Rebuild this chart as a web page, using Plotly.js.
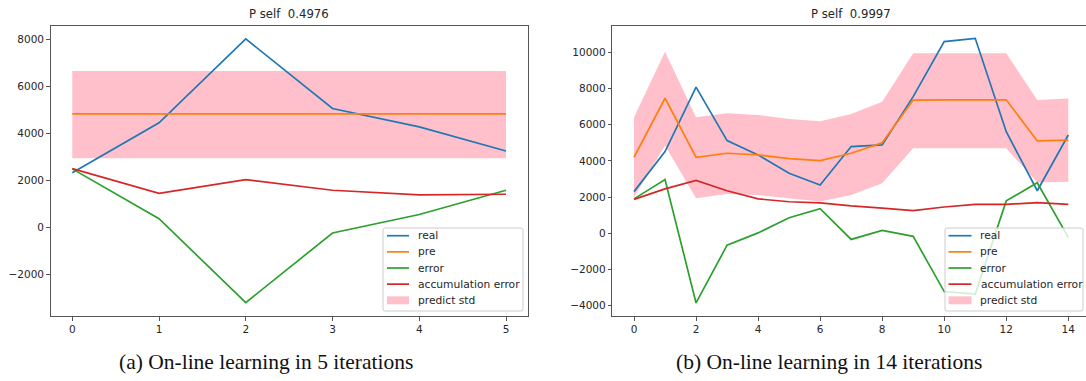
<!DOCTYPE html>
<html>
<head>
<meta charset="utf-8">
<script src="https://cdn.plot.ly/plotly-3.0.1.min.js"></script>
<style>html,body{margin:0;padding:0;background:#fff;}#chart{width:1086px;height:381px;}</style>
</head>
<body>
<div id="chart"></div>
<script>
// ---------- data ----------
const xA = [0, 1, 2, 3, 4, 5];
const realA = [2340, 4460, 8030, 5070, 4290, 3260];
const preA = [4840, 4840, 4840, 4840, 4840, 4840];
const errorA = [2500, 380, -3190, -230, 560, 1590];
const accErrorA = [2510, 1460, 2040, 1590, 1390, 1420];
const stdUpperA = [6670, 6670, 6670, 6670, 6670, 6670];
const stdLowerA = [2950, 2950, 2950, 2950, 2950, 2950];

const xB = [0, 1, 2, 3, 4, 5, 6, 7, 8, 9, 10, 11, 12, 13, 14];
const realB = [2300, 4510, 8070, 5120, 4330, 3310, 2670, 4790, 4880, 7550, 10590, 10770, 5610, 2350, 5430];
const preB = [4200, 7460, 4200, 4420, 4330, 4120, 4010, 4420, 5000, 7360, 7370, 7370, 7370, 5100, 5150];
const errorB = [1900, 2970, -3850, -660, 20, 860, 1360, -340, 160, -170, -3220, -3360, 1790, 2790, -230];
const accErrorB = [1870, 2450, 2920, 2350, 1900, 1740, 1680, 1510, 1390, 1250, 1450, 1600, 1600, 1690, 1600];
const stdUpperB = [6410, 10030, 6410, 6630, 6540, 6310, 6190, 6590, 7270, 9940, 9940, 9940, 9940, 7360, 7440];
const stdLowerB = [1990, 4850, 1930, 2170, 2110, 1930, 1750, 2120, 2760, 4700, 4700, 4700, 4700, 2800, 2850];

const titleA = "P self\u00a0 0.4976";
const titleB = "P self\u00a0 0.9997";
const captionA = "(a) On-line learning in 5 iterations";
const captionB = "(b) On-line learning in 14 iterations";
const legendNames = ["real", "pre", "error", "accumulation error", "predict std"];
const yTicksA = [-2000, 0, 2000, 4000, 6000, 8000];
const yTicksB = [-4000, -2000, 0, 2000, 4000, 6000, 8000, 10000];
const xTicksA = [0, 1, 2, 3, 4, 5];
const xTicksB = [0, 2, 4, 6, 8, 10, 12, 14];

// ---------- styling ----------
const W = 1086, H = 381;
const C = {real: '#1f77b4', pre: '#ff7f0e', error: '#2ca02c', acc: '#d62728', std: '#ffc0cb'};
const colors = [C.real, C.pre, C.error, C.acc, C.std];
const px = v => v / W;
const py = v => 1 - v / H;
const fmt = v => (v < 0 ? '\u2212' + Math.abs(v) : String(v));
const tickFont = {family: 'DejaVu Sans', size: 10.5, color: '#262626'};
const LW = 1.7;

function panel(x, real, pre, err, acc, up, lo, xa, ya) {
  const common = {xaxis: xa, yaxis: ya, showlegend: false, hoverinfo: 'skip', type: 'scatter'};
  return [
    Object.assign({}, common, {x: x, y: lo, mode: 'lines', line: {width: 0, color: C.std}}),
    Object.assign({}, common, {x: x, y: up, mode: 'lines', fill: 'tonexty', fillcolor: C.std, line: {width: 0, color: C.std}}),
    Object.assign({}, common, {x: x, y: real, mode: 'lines', line: {color: C.real, width: LW}}),
    Object.assign({}, common, {x: x, y: pre, mode: 'lines', line: {color: C.pre, width: LW}}),
    Object.assign({}, common, {x: x, y: err, mode: 'lines', line: {color: C.error, width: LW}}),
    Object.assign({}, common, {x: x, y: acc, mode: 'lines', line: {color: C.acc, width: LW}})
  ];
}

const data = [].concat(
  panel(xA, realA, preA, errorA, accErrorA, stdUpperA, stdLowerA, 'x', 'y'),
  panel(xB, realB, preB, errorB, accErrorB, stdUpperB, stdLowerB, 'x2', 'y2')
);

const yDom = [py(316), py(26)];
const axBase = {
  showgrid: false, zeroline: false, showline: true, linecolor: '#555', linewidth: 1,
  ticks: 'outside', ticklen: 3.5, tickwidth: 1, tickcolor: '#555', tickfont: tickFont, fixedrange: true
};

const shapes = [];
const annotations = [];

function legend(bx0, bx1, by0, by1, lx0, lx1, tx) {
  const r = 2;
  shapes.push({
    type: 'path', xref: 'paper', yref: 'paper', layer: 'above',
    path: `M${px(bx0 + r)},${py(by0)} L${px(bx1 - r)},${py(by0)} Q${px(bx1)},${py(by0)} ${px(bx1)},${py(by0 + r)} ` +
          `L${px(bx1)},${py(by1 - r)} Q${px(bx1)},${py(by1)} ${px(bx1 - r)},${py(by1)} L${px(bx0 + r)},${py(by1)} ` +
          `Q${px(bx0)},${py(by1)} ${px(bx0)},${py(by1 - r)} L${px(bx0)},${py(by0 + r)} Q${px(bx0)},${py(by0)} ${px(bx0 + r)},${py(by0)} Z`,
    fillcolor: 'rgba(255,255,255,0.8)', line: {color: '#cccccc', width: 1}
  });
  legendNames.forEach((name, i) => {
    const yc = by0 + 7.7 + i * 16.15;
    if (i < 4) {
      shapes.push({type: 'line', xref: 'paper', yref: 'paper', layer: 'above',
        x0: px(lx0), x1: px(lx1), y0: py(yc), y1: py(yc), line: {color: colors[i], width: LW}});
    } else {
      shapes.push({type: 'rect', xref: 'paper', yref: 'paper', layer: 'above',
        x0: px(lx0), x1: px(lx1), y0: py(yc - 4), y1: py(yc + 4), fillcolor: colors[i], line: {width: 0}});
    }
    annotations.push({xref: 'paper', yref: 'paper', x: px(tx), y: py(yc), xanchor: 'left', yanchor: 'middle',
      text: name, showarrow: false, font: {family: 'DejaVu Sans', size: 10.7, color: '#262626'}});
  });
}
legend(383, 523, 228, 311, 387, 409, 416);
legend(945, 1083, 228, 311, 948.5, 971.5, 978.5);

// titles
annotations.push({xref: 'paper', yref: 'paper', x: px(289), y: py(14), xanchor: 'center', yanchor: 'middle',
  text: titleA, showarrow: false, font: {family: 'DejaVu Sans', size: 11.7, color: '#262626'}});
annotations.push({xref: 'paper', yref: 'paper', x: px(851), y: py(14), xanchor: 'center', yanchor: 'middle',
  text: titleB, showarrow: false, font: {family: 'DejaVu Sans', size: 11.7, color: '#262626'}});
// captions
annotations.push({xref: 'paper', yref: 'paper', x: px(266), y: py(362), xanchor: 'center', yanchor: 'middle',
  text: captionA, showarrow: false, font: {family: 'Liberation Serif', size: 21.5, color: '#111'}});
annotations.push({xref: 'paper', yref: 'paper', x: px(829), y: py(362), xanchor: 'center', yanchor: 'middle',
  text: captionB, showarrow: false, font: {family: 'Liberation Serif', size: 21.5, color: '#111'}});

const layout = {
  width: W, height: H, margin: {l: 0, r: 0, t: 0, b: 0},
  paper_bgcolor: '#fff', plot_bgcolor: '#fff', showlegend: false,
  xaxis: Object.assign({}, axBase, {domain: [px(50.6), px(527.7)], range: [-0.25, 5.25], mirror: true,
    tickvals: xTicksA, ticktext: xTicksA.map(fmt), anchor: 'y'}),
  yaxis: Object.assign({}, axBase, {domain: yDom, range: [-3760, 8580], mirror: true,
    tickvals: yTicksA, ticktext: yTicksA.map(fmt), anchor: 'x'}),
  xaxis2: Object.assign({}, axBase, {domain: [px(612.3), 1], range: [-0.7, 14.571], mirror: true,
    tickvals: xTicksB, ticktext: xTicksB.map(fmt), anchor: 'y2'}),
  yaxis2: Object.assign({}, axBase, {domain: yDom, range: [-4570, 11450], mirror: false,
    tickvals: yTicksB, ticktext: yTicksB.map(fmt), anchor: 'x2'}),
  shapes: shapes,
  annotations: annotations
};

Plotly.newPlot('chart', data, layout, {staticPlot: true, displayModeBar: false});
</script>
</body>
</html>
